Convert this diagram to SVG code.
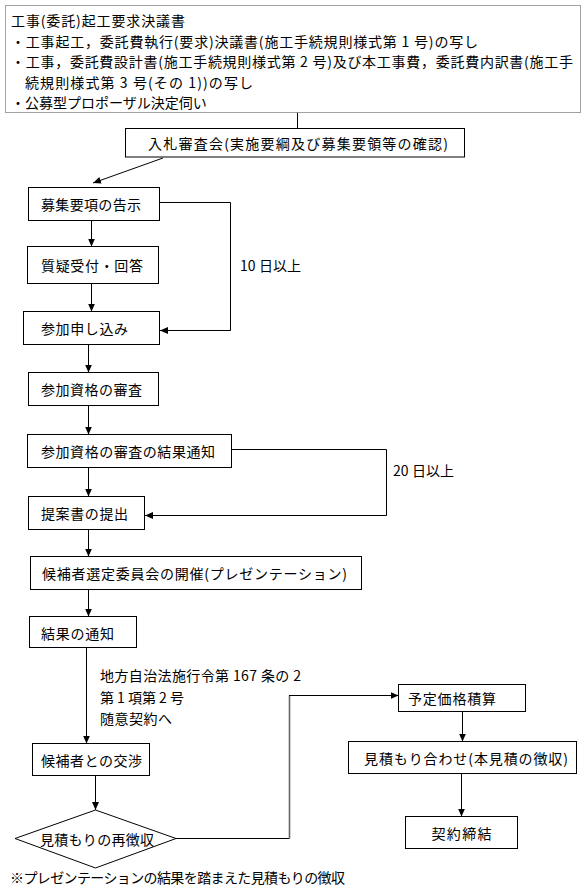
<svg xmlns="http://www.w3.org/2000/svg" width="586" height="890" viewBox="0 0 586 890">
<style>
text{font-family:"Noto Sans CJK JP","Noto Sans",sans-serif;font-size:14px;fill:#000;dominant-baseline:central}
.box{fill:#fff;stroke:#000;stroke-width:1}
.dot{fill:#fff;stroke:#444;stroke-width:1;stroke-dasharray:1 1}
.ln{fill:none;stroke:#000;stroke-width:1}
.ar{marker-end:url(#ah)}
.mid{text-anchor:middle}
</style>
<defs>
<marker id="ah" markerUnits="userSpaceOnUse" markerWidth="8" markerHeight="7" refX="8" refY="3.5" orient="auto">
<path d="M0,0 L8,3.5 L0,7 z" fill="#000"/>
</marker>
</defs>
<rect width="586" height="890" fill="#fff"/>
<g id="connectors">
<line class="ln" x1="297.5" y1="112.5" x2="297.5" y2="128.5"/>
<line class="ln ar" x1="163" y1="158" x2="93" y2="183"/>
<line class="ln ar" x1="91.5" y1="220.5" x2="91.5" y2="246.5"/>
<line class="ln ar" x1="91.5" y1="283.5" x2="91.5" y2="311.5"/>
<polyline class="ln ar" points="159.5,202.5 230.5,202.5 230.5,330.5 160,330.5"/>
<line class="ln ar" x1="88.5" y1="344.5" x2="88.5" y2="372.5"/>
<line class="ln ar" x1="88.5" y1="405.5" x2="88.5" y2="434.5"/>
<polyline class="ln ar" points="231.5,449.5 386.5,449.5 386.5,515.5 145,515.5"/>
<line class="ln ar" x1="88.5" y1="467.5" x2="88.5" y2="496.5"/>
<line class="ln ar" x1="88.5" y1="529.5" x2="88.5" y2="556.5"/>
<line class="ln ar" x1="88.5" y1="589.5" x2="88.5" y2="616.5"/>
<line class="ln ar" x1="86.5" y1="647.5" x2="86.5" y2="743.5"/>
<line class="ln ar" x1="95.5" y1="775.5" x2="95.5" y2="810"/>
<polyline class="ln" points="175,838.5 289.5,838.5"/>
<line x1="289.5" y1="838.5" x2="289.5" y2="695.5" stroke="#666" stroke-width="1.6"/>
<line class="ln ar" x1="289" y1="695.5" x2="398.5" y2="695.5"/>
<line class="ln ar" x1="462.5" y1="711.5" x2="462.5" y2="741.5"/>
<line class="ln ar" x1="461.5" y1="773.5" x2="461.5" y2="816.5"/>
</g>
<g id="n-documents">
<rect class="dot" x="5.5" y="5.5" width="575" height="107"/>
<text x="11" y="20" textLength="174" lengthAdjust="spacing">工事(委託)起工要求決議書</text>
<text x="11" y="40.5" textLength="467" lengthAdjust="spacing">・工事起工，委託費執行(要求)決議書(施工手続規則様式第 1 号)の写し</text>
<text x="11" y="61" textLength="562" lengthAdjust="spacing">・工事，委託費設計書(施工手続規則様式第 2 号)及び本工事費，委託費内訳書(施工手</text>
<text x="25" y="81.5" textLength="228" lengthAdjust="spacing">続規則様式第 3 号(その 1))の写し</text>
<text x="11" y="102">・公募型プロポーザル決定伺い</text>
</g>
<g id="n-review">
<rect class="box" x="125.5" y="128.5" width="339" height="28.5"/>
<text x="148" y="143" textLength="300" lengthAdjust="spacing">入札審査会(実施要綱及び募集要領等の確認)</text>
</g>
<g id="n-notice">
<rect class="box" x="28.5" y="187.5" width="131" height="33"/>
<text x="41" y="204" textLength="100" lengthAdjust="spacing">募集要項の告示</text>
</g>
<g id="n-qa">
<rect class="box" x="27.5" y="246.5" width="131" height="37"/>
<text x="41" y="265" textLength="102" lengthAdjust="spacing">質疑受付・回答</text>
</g>
<g id="n-apply">
<rect class="box" x="23.5" y="311.5" width="136" height="33"/>
<text x="41" y="328" textLength="87" lengthAdjust="spacing">参加申し込み</text>
</g>
<g id="n-qualify">
<rect class="box" x="28.5" y="372.5" width="130" height="33"/>
<text x="41" y="389" textLength="101" lengthAdjust="spacing">参加資格の審査</text>
</g>
<g id="n-result1">
<rect class="box" x="27.5" y="434.5" width="204" height="33"/>
<text x="41" y="451" textLength="174" lengthAdjust="spacing">参加資格の審査の結果通知</text>
</g>
<g id="n-proposal">
<rect class="box" x="28.5" y="496.5" width="116" height="33"/>
<text x="41" y="513" textLength="87" lengthAdjust="spacing">提案書の提出</text>
</g>
<g id="n-committee">
<rect class="box" x="30.5" y="556.5" width="331" height="33"/>
<text x="42" y="573" textLength="305" lengthAdjust="spacing">候補者選定委員会の開催(プレゼンテーション)</text>
</g>
<g id="n-result2">
<rect class="box" x="29.5" y="616.5" width="107" height="31"/>
<text x="41" y="632.5" textLength="73" lengthAdjust="spacing">結果の通知</text>
</g>
<g id="n-negotiate">
<rect class="box" x="32.5" y="743.5" width="117" height="32"/>
<text x="41" y="759.5" textLength="101" lengthAdjust="spacing">候補者との交渉</text>
</g>
<g id="n-reestimate">
<polygon class="box" points="15,838.5 95.5,810 176,838.5 95.5,868"/>
<text x="97" y="838.5" class="mid" textLength="114" lengthAdjust="spacing">見積もりの再徴収</text>
</g>
<g id="n-price">
<rect class="box" x="398.5" y="684.5" width="127" height="27"/>
<text x="408" y="698" textLength="88" lengthAdjust="spacing">予定価格積算</text>
</g>
<g id="n-quote">
<rect class="box" x="348.5" y="741.5" width="228" height="32"/>
<text x="364" y="757.5" textLength="204" lengthAdjust="spacing">見積もり合わせ(本見積の徴収)</text>
</g>
<g id="n-contract">
<rect class="box" x="405.5" y="816.5" width="112" height="32"/>
<text x="461.5" y="832.5" class="mid" textLength="60" lengthAdjust="spacing">契約締結</text>
</g>
<g id="labels">
<text x="240" y="265" textLength="61" lengthAdjust="spacing">10 日以上</text>
<text x="393" y="470" textLength="61" lengthAdjust="spacing">20 日以上</text>
<text x="100" y="675" textLength="201" lengthAdjust="spacing">地方自治法施行令第 167 条の 2</text>
<text x="100" y="696.5" textLength="84" lengthAdjust="spacing">第 1 項第 2 号</text>
<text x="100" y="718" textLength="72" lengthAdjust="spacing">随意契約へ</text>
<text x="10" y="877" textLength="335" lengthAdjust="spacing">※プレゼンテーションの結果を踏まえた見積もりの徴収</text>
</g>
</svg>
